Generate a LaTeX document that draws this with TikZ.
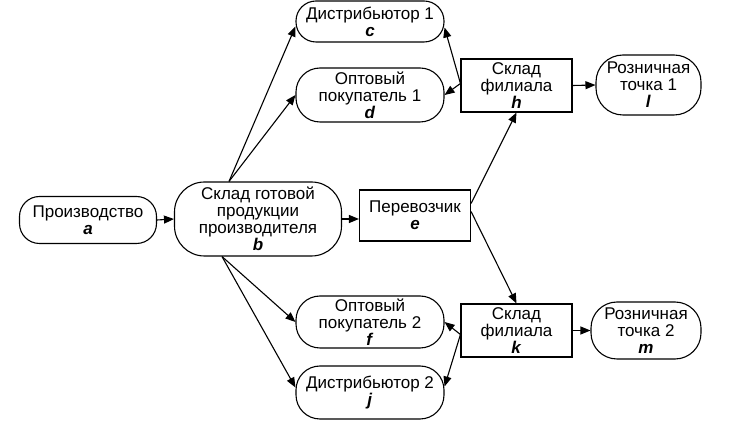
\documentclass[tikz,border=0pt]{standalone}
\usepackage{fontspec}
\setmainfont{Liberation Sans}
\usetikzlibrary{arrows.meta}
\tikzset{
  txt/.style={font=\fontsize{17}{17}\selectfont},
  oval/.style={draw, line width=1.1pt, rounded corners=20pt, align=center, inner sep=0pt, txt},
  box/.style={draw, line width=1.1pt, align=center, inner sep=0pt, txt},
  arr/.style={-{Triangle[length=10pt,width=8pt]}, line width=1.1pt}
}
\newcommand{\lt}[1]{\textbf{\textit{#1}}}
\begin{document}
\begin{tikzpicture}[x=1pt,y=1pt]
\useasboundingbox (0,0) rectangle (729,423);
\node[oval, minimum width=137pt, minimum height=47pt] (a) at (88,203) {Производство\\\lt{a}};
\node[oval, rounded corners=30pt, minimum width=167pt, minimum height=74pt] (b) at (258,204) {Склад готовой\\продукции\\производителя\\\lt{b}};
\node[box, minimum width=111pt, minimum height=51pt] (e) at (415,207.5) {Перевозчик\\\lt{e}};
\node[oval, minimum width=148pt, minimum height=41pt] (c) at (370,401.5) {Дистрибьютор 1\\\lt{c}};
\node[oval, rounded corners=24pt, minimum width=148pt, minimum height=54pt] (d) at (370,328) {Оптовый\\покупатель 1\\\lt{d}};
\node[box, minimum width=111pt, minimum height=53pt] (h) at (516.5,337.5) {Склад\\филиала\\\lt{h}};
\node[oval, rounded corners=27pt, minimum width=105pt, minimum height=60pt] (l) at (648.5,338) {Розничная\\точка 1\\\lt{l}};
\node[oval, rounded corners=24pt, minimum width=148pt, minimum height=52pt] (f) at (370,101) {Оптовый\\покупатель 2\\\lt{f}};
\node[oval, rounded corners=24pt, minimum width=148pt, minimum height=53pt] (j) at (370,30.5) {Дистрибьютор 2\\\lt{j}};
\node[box, minimum width=111pt, minimum height=53pt] (k) at (516.5,92.5) {Склад\\филиала\\\lt{k}};
\node[oval, rounded corners=26pt, minimum width=110pt, minimum height=57pt] (m) at (646,92.5) {Розничная\\точка 2\\\lt{m}};

\draw[arr] (a.east) -- (b.west);
\draw[arr] (b.east) -- (b.east -| e.west);
\draw[arr] ([xshift=-29pt]b.north) -- ([yshift=-5pt]c.west);
\draw[arr] ([xshift=-29pt]b.north) -- (d.west);
\draw[arr] ([xshift=-36pt]b.south) -- (f.west);
\draw[arr] ([xshift=-36pt]b.south) -- ([yshift=5pt]j.west);
\draw[arr] ([yshift=2pt]h.west) -- ([yshift=-6pt]c.east);
\draw[arr] ([yshift=2pt]h.west) -- (d.east);
\draw[arr] ([yshift=12pt]e.east) -- (h.south);
\draw[arr] ([yshift=4pt]e.east) -- (k.north);
\draw[arr] ([yshift=-4pt]k.west) -- (f.east);
\draw[arr] ([yshift=-4pt]k.west) -- ([yshift=6pt]j.east);
\draw[arr] (h.east) -- (l.west);
\draw[arr] (k.east) -- (m.west);
\end{tikzpicture}
\end{document}
